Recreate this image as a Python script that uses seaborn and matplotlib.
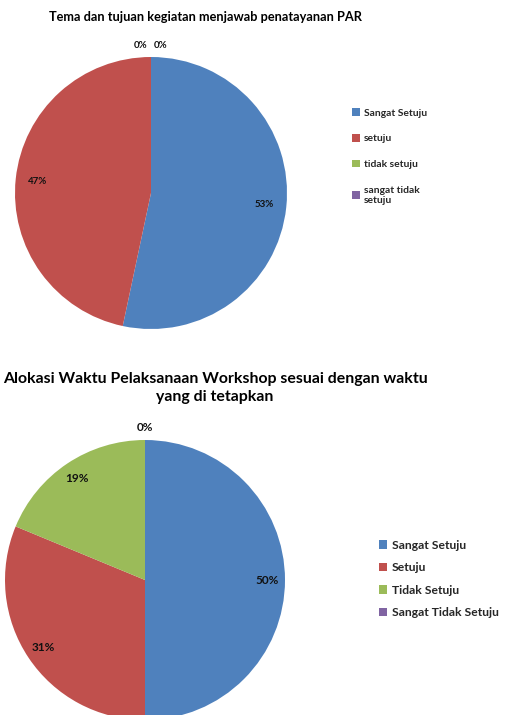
import matplotlib
matplotlib.use("Agg")
from matplotlib import pyplot as plt
from matplotlib.patches import Patch
import seaborn as sns

sns.set_theme(style="white")
plt.rcParams["font.family"] = ["Lato", "DejaVu Sans"]

# data
title_top = "Tema dan tujuan kegiatan menjawab penatayanan PAR"
labels_top = ["Sangat Setuju", "setuju", "tidak setuju", "sangat tidak\nsetuju"]
values_top = [8, 7, 0, 0]

title_bot = "Alokasi Waktu Pelaksanaan Workshop sesuai dengan waktu\nyang di tetapkan"
labels_bot = ["Sangat Setuju", "Setuju", "Tidak Setuju", "Sangat Tidak Setuju"]
values_bot = [8, 5, 3, 0]

colors = ["#4F81BD", "#C0504D", "#9BBB59", "#8064A2"]

W, H = 506, 715
fig = plt.figure(figsize=(W / 100, H / 100), dpi=100)


def pie_axes(cx, cy, r):
    return fig.add_axes([(cx - r) / W, 1 - (cy + r) / H, 2 * r / W, 2 * r / H])


def draw_pie(ax, values, fs, pctdist, zero_x):
    wedges, texts, autotexts = ax.pie(
        values, colors=colors, startangle=90, counterclock=False,
        autopct=lambda p: f"{p:.0f}%", pctdistance=pctdist,
        wedgeprops=dict(linewidth=0),
        textprops=dict(fontsize=fs, fontweight="bold", color="#111111"))
    # zero slices: Excel puts their labels just outside the top
    zi = 0
    for v, t in zip(values, autotexts):
        if v == 0:
            t.set_position((zero_x[zi], 1.05))
            t.set_va("bottom")
            zi += 1
    ax.set_xlim(-1, 1)
    ax.set_ylim(-1, 1)
    ax.set_aspect("equal")
    ax.axis("off")
    return wedges


# top chart
ax1 = pie_axes(151, 193, 136)
draw_pie(ax1, values_top, 7, 0.84, [-0.08, 0.07])
fig.text(205 / W, 1 - 17 / H, title_top, ha="center", va="center",
         fontsize=9.2, fontweight="bold", color="#000000")
h1 = [Patch(facecolor=c, edgecolor="none") for c in colors]
fig.legend(h1, labels_top, loc="upper left", bbox_to_anchor=(343 / W, 1 - 99 / H),
           frameon=False, prop=dict(weight="bold", size=7.4),
           handlelength=0.75, handleheight=0.75, handletextpad=0.4, labelspacing=1.6)

# bottom chart
ax2 = pie_axes(145, 580, 140)
draw_pie(ax2, values_bot, 8.5, 0.87, [0.0])
fig.text(215 / W, 1 - 388 / H, title_bot, ha="center", va="center",
         fontsize=11.4, fontweight="bold", color="#000000", linespacing=1.3)
fig.legend(h1, labels_bot, loc="upper left", bbox_to_anchor=(368 / W, 1 - 529 / H),
           frameon=False, prop=dict(weight="bold", size=8.7),
           handlelength=0.7, handleheight=0.7, handletextpad=0.4, labelspacing=0.95)

fig.savefig("out.png", dpi=100)
